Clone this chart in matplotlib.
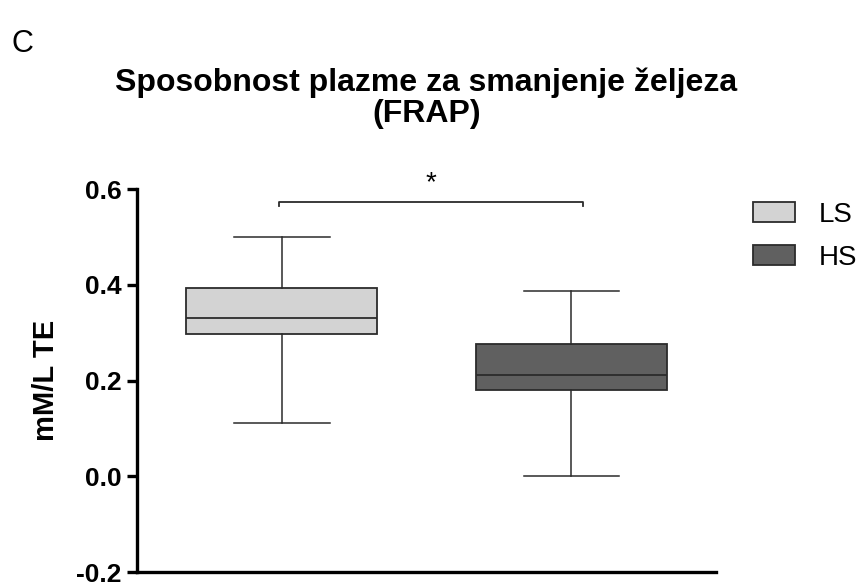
import matplotlib
matplotlib.use('Agg')
import matplotlib.pyplot as plt
from matplotlib.patches import Patch

plt.rcParams['font.family'] = ['Liberation Sans', 'DejaVu Sans']

# data: min, q1, median, q3, max
groups = ['LS', 'HS']
whislo = [0.111, 0.000]
q1 = [0.298, 0.181]
med = [0.330, 0.212]
q3 = [0.394, 0.277]
whishi = [0.500, 0.387]
colors = ['#d3d3d3', '#606060']

stats = []
for i in range(len(groups)):
    stats.append({'label': groups[i], 'whislo': whislo[i], 'q1': q1[i], 'med': med[i],
                  'q3': q3[i], 'whishi': whishi[i], 'fliers': []})

fig = plt.figure(figsize=(8.62, 5.83), dpi=100)
ax = fig.add_axes([0.159, 0.0184, 0.6717, 0.6574])

line_col = '#2b2b2b'
bp = ax.bxp(stats, positions=[1, 2], widths=0.66, patch_artist=True, showfliers=False,
            boxprops=dict(edgecolor=line_col, linewidth=1.3),
            medianprops=dict(color=line_col, linewidth=1.3),
            whiskerprops=dict(color=line_col, linewidth=1.1),
            capprops=dict(color=line_col, linewidth=1.1),
            capwidths=0.33)
for box, c in zip(bp['boxes'], colors):
    box.set_facecolor(c)

ax.set_xlim(0.5, 2.5)
ax.set_ylim(-0.2, 0.6)
ax.set_yticks([-0.2, 0.0, 0.2, 0.4, 0.6])
ax.set_yticklabels(['-0.2', '0.0', '0.2', '0.4', '0.6'], fontsize=19, fontweight='bold')
ax.set_xticks([])
ax.spines['top'].set_visible(False)
ax.spines['right'].set_visible(False)
ax.spines['left'].set_linewidth(2.4)
ax.spines['bottom'].set_linewidth(2.4)
ax.tick_params(axis='y', length=7, width=2.4, pad=4)
ax.set_ylabel('mM/L TE', fontsize=21, fontweight='bold', labelpad=12)

# significance bracket
bx1, bx2, by = 0.99, 2.04, 0.572
ax.plot([bx1, bx1, bx2, bx2], [by - 0.008, by, by, by - 0.008], color=line_col, lw=1.3, clip_on=False)
ax.text((bx1 + bx2) / 2, by + 0.012, '*', ha='center', va='bottom', fontsize=20, clip_on=False)

ax.set_title('Sposobnost plazme za smanjenje željeza\n(FRAP)', fontsize=23, fontweight='bold',
             pad=48, linespacing=1.07)
fig.text(0.013, 0.95, 'C', fontsize=22, va='top', ha='left')

handles = [Patch(facecolor=colors[i], edgecolor=line_col, linewidth=1.3, label=groups[i]) for i in range(2)]
fig.legend(handles=handles, loc='upper left', bbox_to_anchor=(753 / 862, 1 - 202 / 583),
           frameon=False, fontsize=20, handlelength=1.5, handleheight=0.72,
           borderpad=0, borderaxespad=0, labelspacing=0.6, handletextpad=0.85)

fig.savefig('out.png', dpi=100)
